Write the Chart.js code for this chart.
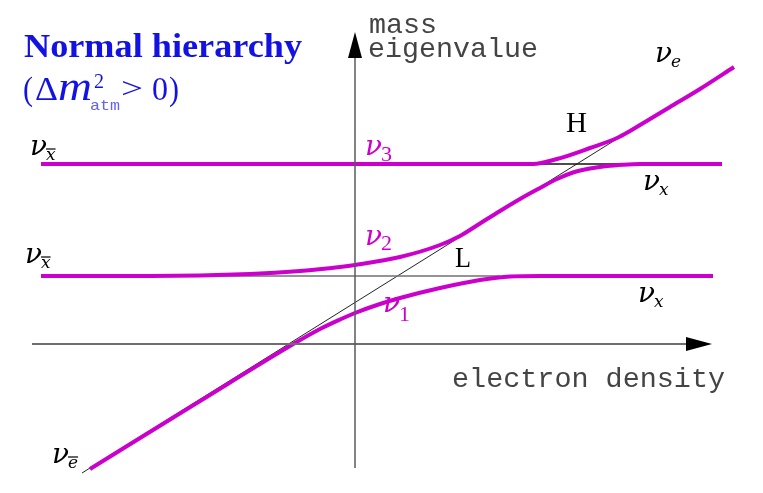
<!DOCTYPE html>
<html>
<head>
<meta charset="utf-8">
<script src="https://cdn.jsdelivr.net/npm/chart.js@4.4.0/dist/chart.umd.min.js"></script>
<style>
  html, body { margin: 0; padding: 0; background: #fff; }
  #wrap { width: 763px; height: 493px; }
</style>
</head>
<body>
<div id="wrap"><canvas id="c" width="763" height="493"></canvas></div>
<script>
// ── level-crossing diagram: electron density (x) vs mass eigenvalue (y)
// units are arbitrary, origin is where the two axes cross

// nu3 : upper level, bends up into nu_e after the H resonance
var nu3X = [-31.4, 14.5, 17.8, 20.2, 23.5, 26.2, 27.5, 29.5, 31.5, 34.5, 37.9];
var nu3Y = [18.0, 18.0, 18.0, 18.5, 19.6, 20.6, 21.3, 22.5, 23.7, 25.5, 27.7];

// nu2 : middle level, L resonance then H resonance, ends as nu_x
var nu2X = [-31.4, -20.5, -10.5, -5.5, -1.5, 0, 4.5, 8.5, 10.5, 12.5, 14.5, 16.5, 18.5, 20.2, 21.8, 23.5, 25.2, 26.8, 28.5, 36.7];
var nu2Y = [6.8, 6.8, 7.0, 7.3, 7.7, 7.9, 8.7, 9.9, 10.8, 12.05, 13.3, 14.5, 15.6, 16.5, 17.15, 17.55, 17.8, 17.93, 18.0, 18.0];

// nu1 : lowest level, starts on the nu_e-bar line, ends as nu_x
var nu1X = [-26.5, -15.5, -6.0, -3.5, -1.5, 0, 2.5, 4.5, 8.5, 12.5, 15.5, 18.5, 35.8];
var nu1Y = [-12.5, -5.7, 0.1, 1.5, 2.45, 3.1, 4.0, 4.6, 5.6, 6.4, 6.75, 6.8, 6.8];

// unperturbed levels (thin lines)
var diagX = [-27.3, 27.3];
var diagY = [-12.9, 21.2];
var lowFlatX = [-19.5, 14.5];
var lowFlatY = [6.8, 6.8];
var highFlatX = [17.8, 29.0];
var highFlatY = [18.0, 18.0];

// axes
var vAxisX = [0, 0];
var vAxisY = [-12.4, 28.8];
var hAxisX = [-32.3, 33.3];
var hAxisY = [0, 0];

var X_MIN = -35.5, X_MAX = 40.8, Y_MIN = -14.9, Y_MAX = 34.4;

var MAGENTA = '#cc00cc';

function pts(xs, ys) {
  return xs.map(function (x, i) { return { x: x, y: ys[i] }; });
}

function curve(xs, ys) {
  return {
    data: pts(xs, ys),
    borderColor: MAGENTA,
    borderWidth: 4,
    cubicInterpolationMode: 'monotone',
    pointRadius: 0,
    fill: false
  };
}

function thin(xs, ys, col, w) {
  return {
    data: pts(xs, ys),
    borderColor: col,
    borderWidth: w,
    tension: 0,
    pointRadius: 0,
    fill: false
  };
}

// squeeze text horizontally so it fills a given width
function fitText(ctx, txt, x, y, w) {
  var m = ctx.measureText(txt).width;
  ctx.save();
  ctx.translate(x, y);
  ctx.scale(w / m, 1);
  ctx.fillText(txt, 0, 0);
  ctx.restore();
}

// nu with a subscript, optional bar over the subscript
function nuLabel(ctx, x, base, sub, col, opt) {
  opt = opt || {};
  var nuW = opt.nuW || 17;
  ctx.fillStyle = col;
  ctx.font = 'italic 28px "DejaVu Serif"';
  fitText(ctx, '\u03bd', x, base, nuW);
  if (opt.digit) {
    ctx.font = '22px "Liberation Serif"';
  } else {
    ctx.font = 'italic 17px "DejaVu Serif"';
  }
  var sx = x + nuW - 1;
  var sb = base + (opt.drop == null ? 5 : opt.drop);
  ctx.fillText(sub, sx, sb);
  if (opt.bar) {
    var sw = ctx.measureText(sub).width;
    ctx.strokeStyle = col;
    ctx.lineWidth = 1.2;
    ctx.beginPath();
    ctx.moveTo(sx, sb - 11);
    ctx.lineTo(sx + sw, sb - 11);
    ctx.stroke();
  }
}

var decor = {
  id: 'decor',
  afterDatasetsDraw: function (chart) {
    var ctx = chart.ctx;
    var sx = chart.scales.x, sy = chart.scales.y;
    ctx.save();

    // arrow heads
    ctx.fillStyle = '#000';
    var ox = sx.getPixelForValue(0), oy = sy.getPixelForValue(0);
    var tipY = sy.getPixelForValue(31.2), baseY = sy.getPixelForValue(28.6);
    ctx.beginPath();
    ctx.moveTo(ox, tipY);
    ctx.lineTo(ox - 7, baseY);
    ctx.lineTo(ox + 7, baseY);
    ctx.closePath();
    ctx.fill();
    var tipX = sx.getPixelForValue(35.7), baseX = sx.getPixelForValue(33.1);
    ctx.beginPath();
    ctx.moveTo(tipX, oy);
    ctx.lineTo(baseX, oy - 7);
    ctx.lineTo(baseX, oy + 7);
    ctx.closePath();
    ctx.fill();

    ctx.textAlign = 'left';
    ctx.textBaseline = 'alphabetic';

    // title
    ctx.fillStyle = '#1212e2';
    ctx.font = 'bold 33px "Liberation Serif"';
    fitText(ctx, 'Normal hierarchy', 24, 57, 278);

    // (Δm²_atm > 0)
    ctx.font = '34px "Liberation Serif"';
    fitText(ctx, '(', 23, 100, 10);
    fitText(ctx, '\u0394', 35, 100, 23);
    ctx.font = 'italic 40px "Liberation Serif"';
    fitText(ctx, 'm', 58, 100, 34);
    ctx.font = '21px "Liberation Serif"';
    fitText(ctx, '2', 94, 88, 10);
    ctx.fillStyle = '#6262ee';
    ctx.font = '15px "Liberation Mono"';
    fitText(ctx, 'atm', 90, 110, 30);
    ctx.fillStyle = '#1212e2';
    ctx.font = '30px "Liberation Serif"';
    fitText(ctx, '>', 121, 98, 22);
    ctx.font = '34px "Liberation Serif"';
    fitText(ctx, '0', 152, 100, 16);
    fitText(ctx, ')', 169, 100, 10);

    // axis captions
    ctx.fillStyle = '#444';
    ctx.font = '28px "Liberation Mono"';
    fitText(ctx, 'mass', 369, 33, 68);
    fitText(ctx, 'eigenvalue', 368, 57, 170);
    fitText(ctx, 'electron density', 452, 387, 273);

    // resonance markers
    ctx.fillStyle = '#000';
    ctx.font = '29px "Liberation Serif"';
    fitText(ctx, 'H', 566, 132, 21);
    fitText(ctx, 'L', 455, 267, 16);

    // flavour labels
    nuLabel(ctx, 655, 62, 'e', '#000');
    nuLabel(ctx, 30, 155, 'x', '#000', { bar: true });
    nuLabel(ctx, 25, 263, 'x', '#000', { bar: true });
    nuLabel(ctx, 52, 463, 'e', '#000', { bar: true });
    nuLabel(ctx, 643, 190, 'x', '#000');
    nuLabel(ctx, 638, 302, 'x', '#000');

    // mass eigenstate labels
    nuLabel(ctx, 365, 155, '3', MAGENTA, { digit: true, drop: 6 });
    nuLabel(ctx, 365, 245, '2', MAGENTA, { digit: true, drop: 5 });
    nuLabel(ctx, 383, 312, '1', MAGENTA, { digit: true, drop: 9 });

    ctx.restore();
  }
};

new Chart(document.getElementById('c'), {
  type: 'line',
  data: {
    datasets: [
      thin(vAxisX, vAxisY, '#5a5a5a', 1.5),
      thin(hAxisX, hAxisY, '#6e6e6e', 2),
      curve(nu3X, nu3Y),
      curve(nu2X, nu2Y),
      curve(nu1X, nu1Y),
      thin(lowFlatX, lowFlatY, '#707070', 1.5),
      thin(highFlatX, highFlatY, '#111', 1.5),
      thin(diagX, diagY, '#222', 1)
    ]
  },
  options: {
    responsive: false,
    devicePixelRatio: 1,
    animation: false,
    layout: { padding: 0 },
    plugins: {
      legend: { display: false },
      tooltip: { enabled: false }
    },
    scales: {
      x: { type: 'linear', min: X_MIN, max: X_MAX, display: false },
      y: { type: 'linear', min: Y_MIN, max: Y_MAX, display: false }
    }
  },
  plugins: [decor]
});
</script>
</body>
</html>
